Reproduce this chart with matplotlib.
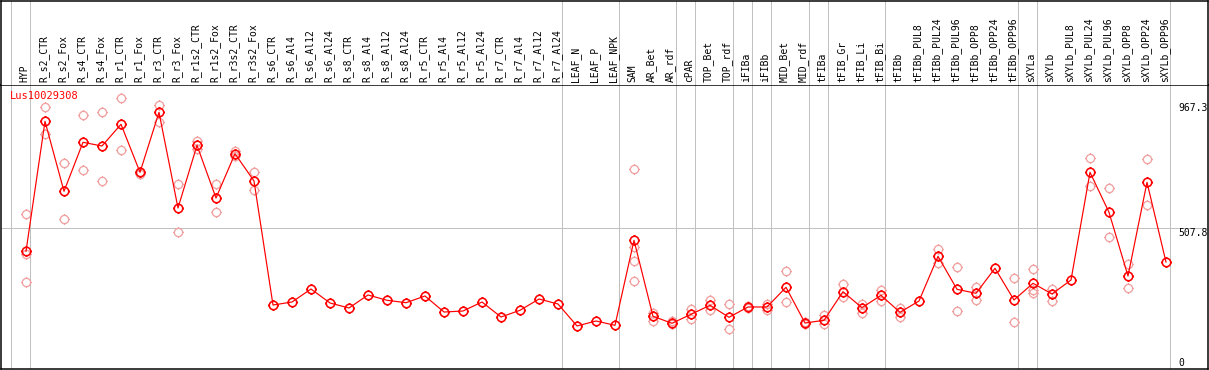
import matplotlib
matplotlib.use("Agg")
import matplotlib.pyplot as plt
from matplotlib.path import Path
import numpy as np

# ---------------- data ----------------
gene = "Lus10029308"
categories = [
    "HYP", "R_s2_CTR", "R_s2_Fox", "R_s4_CTR", "R_s4_Fox", "R_r1_CTR", "R_r1_Fox",
    "R_r3_CTR", "R_r3_Fox", "R_r1s2_CTR", "R_r1s2_Fox", "R_r3s2_CTR", "R_r3s2_Fox",
    "R_s6_CTR", "R_s6_Al4", "R_s6_Al12", "R_s6_Al24", "R_s8_CTR", "R_s8_Al4",
    "R_s8_Al12", "R_s8_Al24", "R_r5_CTR", "R_r5_Al4", "R_r5_Al12", "R_r5_Al24",
    "R_r7_CTR", "R_r7_Al4", "R_r7_Al12", "R_r7_Al24", "LEAF_N", "LEAF_P", "LEAF_NPK",
    "SAM", "AR_Bet", "AR_rdf", "cPAR", "TOP_Bet", "TOP_rdf", "iFIBa", "iFIBb",
    "MID_Bet", "MID_rdf", "tFIBa", "tFIB_Gr", "tFIB_Li", "tFIB_Bi", "tFIBb",
    "tFIBb_PUL8", "tFIBb_PUL24", "tFIBb_PUL96", "tFIBb_OPP8", "tFIBb_OPP24",
    "tFIBb_OPP96", "sXYLa", "sXYLb", "sXYLb_PUL8", "sXYLb_PUL24", "sXYLb_PUL96",
    "sXYLb_OPP8", "sXYLb_OPP24", "sXYLb_OPP96",
]
group_sizes = [1, 28, 3, 3, 1, 2, 1, 1, 2, 1, 3, 7, 1, 7]

mean_values = [
    420.8, 899.9, 641.9, 822.5, 808.8, 888.8, 711.9, 933.0, 580.4, 811.4,
    617.2, 780.5, 679.9, 222.9, 234.0, 281.9, 230.3, 211.9, 259.8, 240.3,
    231.4, 256.1, 197.1, 200.8, 234.0, 178.7, 203.4, 245.0, 226.6, 145.6,
    164.0, 148.1, 461.3, 181.3, 155.5, 188.7, 221.8, 177.6, 215.6, 215.6,
    288.2, 156.6, 166.6, 271.9, 213.0, 258.7, 196.0, 237.7, 402.4, 280.8,
    266.0, 358.2, 241.4, 302.9, 263.5, 315.1, 711.9, 564.5, 329.8, 675.1,
    381.4,
]

replicates = [
    [557.2, 410.9, 306.6], [951.4, 851.9], [745.1, 539.9], [922.0, 719.3],
    [933.0, 678.8], [984.6, 793.0], [714.1, 705.7], [958.8, 898.4],
    [667.7, 490.8], [827.3, 796.7], [667.7, 564.5], [790.4, 772.0],
    [711.9, 645.6],
    [], [], [], [], [], [], [], [], [], [], [], [], [], [], [], [], [], [], [],
    [724.1, 435.5, 384.0, 310.3], [194.6, 165.1], [165.1, 152.9], [207.1, 171.3],
    [240.3, 204.5], [225.5, 133.4], [219.3, 210.8], [225.5, 204.5],
    [347.1, 234.0], [161.4, 151.8], [186.1, 151.8], [300.3, 252.4],
    [227.7, 194.6], [279.3, 238.8], [210.8, 179.8], [],
    [429.3, 376.6], [361.9, 200.8], [290.4, 242.5], [], [321.3, 159.2],
    [354.5, 278.2, 268.3], [281.9, 238.8], [], [763.5, 660.3], [653.0, 473.5],
    [375.1, 284.5], [759.8, 590.3], [],
]

scale_labels = [967.3, 507.8, 0]
grid_value = 507.8

# ---------------- style ----------------
W, H = 1209, 370
RED = "#ff0000"
PINK = "#f0a0a0"
GREY = "#c0c0c0"
FONT = "DejaVu Sans Mono"
FS = 7
px = 72 / 100.0  # points per pixel

x0_px, step_px = 26, 19          # pixel position of first point, spacing
cell_off = 15 / 19               # point offset within its cell
header_px = 85
bottom_px = 369
zero_px, unit_px = 365.5, 0.27138

def xdata(p):
    return (p - x0_px) / step_px

def ydata(p):
    return (zero_px - p) / unit_px

fig = plt.figure(figsize=(W / 100, H / 100), dpi=100)
xl = (xdata(1), xdata(1208))

ax = fig.add_axes([1 / W, (H - bottom_px) / H, 1207 / W, (bottom_px - header_px) / H])
hx = fig.add_axes([1 / W, (H - header_px) / H, 1207 / W, (header_px - 0.5) / H])

for a in (ax, hx):
    a.set_xlim(*xl)
    a.set_xticks([])
    a.set_yticks([])
    for s in a.spines.values():
        s.set_color("black")
        s.set_linewidth(1.5 * px)
hx.spines["bottom"].set_visible(False)
hx.set_ylim(0, 1)
ax.set_ylim(ydata(bottom_px), ydata(header_px))

# group separators
bounds = np.concatenate([[0], np.cumsum(group_sizes)]) - cell_off
for b in bounds:
    for a in (ax, hx):
        a.axvline(b, color=GREY, lw=1 * px, zorder=1)
ax.axhline(grid_value, color=GREY, lw=1 * px, zorder=1)

# marker: circle with four small outward ticks
circ = Path.unit_circle()
t = 1.28
ticks = Path([(1, 0), (t, 0), (-1, 0), (-t, 0), (0, 1), (0, t), (0, -1), (0, -t)],
             [Path.MOVETO, Path.LINETO] * 4)
mk = Path.make_compound_path(circ, ticks)

xs = np.arange(len(categories))
rx, ry = [], []
for i, reps in enumerate(replicates):
    for v in reps:
        rx.append(i)
        ry.append(v)
ax.plot(rx, ry, linestyle="none", marker=mk, markersize=7.6, markerfacecolor="none",
        markeredgecolor=PINK, markeredgewidth=1.3 * px, zorder=2)
ax.plot(xs, mean_values, color=RED, lw=1.2 * px, zorder=3)
ax.plot(xs, mean_values, linestyle="none", marker=mk, markersize=7.8, markerfacecolor="none",
        markeredgecolor=RED, markeredgewidth=1.6 * px, zorder=4)

# header labels
for i, c in enumerate(categories):
    hx.text(i - 0.08, 3.0 / header_px, c, rotation=90, ha="center", va="bottom",
            fontsize=FS, family=FONT, color="black")

# right side scale labels
lx = xdata(1178)
ax.text(lx, scale_labels[0], f"{scale_labels[0]:.1f}", ha="left", va="top",
        fontsize=FS, family=FONT, color="black")
ax.text(lx, scale_labels[1], f"{scale_labels[1]:.1f}", ha="left", va="top",
        fontsize=FS, family=FONT, color="black")
ax.text(lx, scale_labels[2], f"{scale_labels[2]:d}", ha="left", va="baseline",
        fontsize=FS, family=FONT, color="black")

# gene name
fig.text(10 / W, 1 - 96 / H, gene, ha="left", va="center", fontsize=FS + 0.5,
         family=FONT, color=RED)

fig.savefig("out.png", dpi=100)
